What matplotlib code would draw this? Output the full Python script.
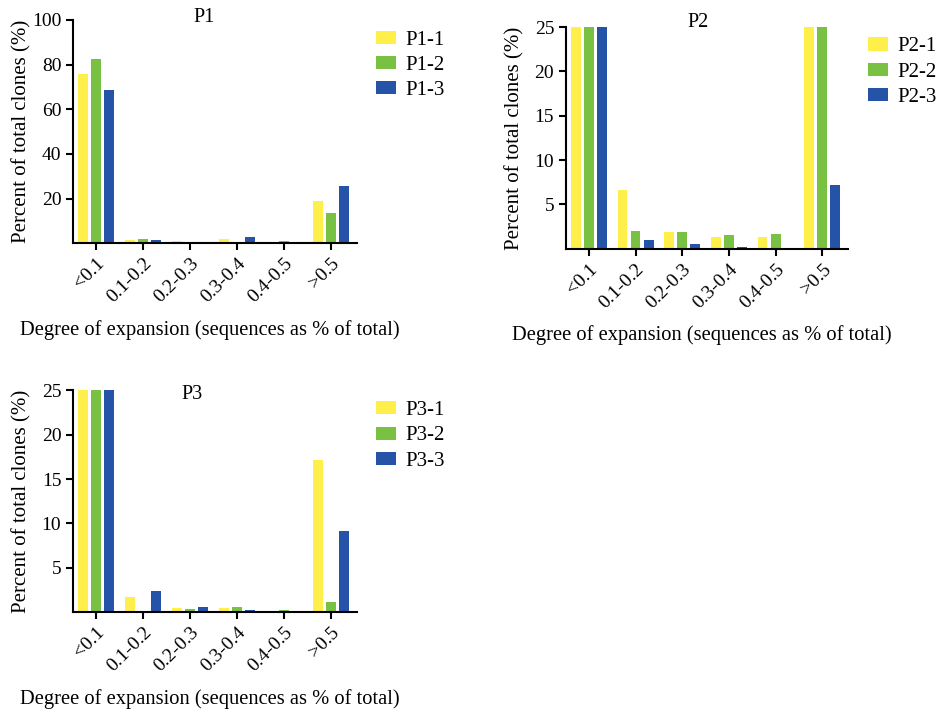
import matplotlib
matplotlib.use("Agg")
import matplotlib.pyplot as plt
import numpy as np

plt.rcParams['font.family'] = ['Liberation Serif', 'DejaVu Serif']

categories = ['<0.1', '0.1-0.2', '0.2-0.3', '0.3-0.4', '0.4-0.5', '>0.5']

# P1 (y axis 0-100)
p1_1 = [75.8, 1.5, 0.8, 2.0, 0.0, 19.0]
p1_2 = [82.4, 1.8, 0.6, 0.6, 0.8, 13.4]
p1_3 = [68.6, 1.5, 0.3, 2.8, 0.6, 25.6]

# P2 (y axis clipped at 25)
p2_1 = [25.0, 6.6, 1.85, 1.3, 1.3, 25.0]
p2_2 = [25.0, 2.0, 1.85, 1.55, 1.7, 25.0]
p2_3 = [25.0, 0.95, 0.5, 0.25, 0.0, 7.2]

# P3 (y axis clipped at 25)
p3_1 = [25.0, 1.76, 0.5, 0.5, 0.0, 17.1]
p3_2 = [25.0, 0.15, 0.4, 0.6, 0.3, 1.1]
p3_3 = [25.0, 2.37, 0.6, 0.25, 0.0, 9.2]

colors = ['#FFEF4A', '#79C143', '#2453A8']

fig = plt.figure(figsize=(9.37, 7.11), dpi=100)

# title, series, legend names, axes rect, ymax, yticks, title pos, legend anchor
panels = [
    ('P1', [p1_1, p1_2, p1_3], ['P1-1', 'P1-2', 'P1-3'], [0.078, 0.658, 0.303, 0.314], 100,
     [20, 40, 60, 80, 100], (0.46, 1.01), (1.067, 0.952)),
    ('P2', [p2_1, p2_2, p2_3], ['P2-1', 'P2-2', 'P2-3'], [0.604, 0.650, 0.301, 0.312], 25,
     [5, 10, 15, 20, 25], (0.47, 1.02), (1.071, 0.953)),
    ('P3', [p3_1, p3_2, p3_3], ['P3-1', 'P3-2', 'P3-3'], [0.078, 0.139, 0.303, 0.312], 25,
     [5, 10, 15, 20, 25], (0.42, 0.98), (1.067, 0.951)),
]

x = np.arange(len(categories))
w = 0.21
step = 0.28

for title, series, names, pos, ymax, yticks, tpos, lpos in panels:
    ax = fig.add_axes(pos)
    handles = []
    for i, vals in enumerate(series):
        b = ax.bar(x + (i - 1) * step, vals, width=w, color=colors[i], label=names[i])
        handles.append(b)
    ax.set_xlim(-0.49, 5.55)
    ax.set_ylim(0, ymax)
    ax.set_yticks(yticks)
    ax.set_xticks(x)
    ax.set_xticklabels(categories, rotation=45, ha='right', rotation_mode='anchor')
    ax.tick_params(axis='both', labelsize=14, width=1.5, length=5, direction='out')
    for s in ['top', 'right']:
        ax.spines[s].set_visible(False)
    for s in ['left', 'bottom']:
        ax.spines[s].set_linewidth(1.5)
    ax.set_ylabel('Percent of total clones (%)', fontsize=15, va='center')
    ax.yaxis.set_label_coords(-0.18, 0.5)
    ax.set_xlabel('Degree of expansion (sequences as % of total)', fontsize=14.8, va='center')
    ax.xaxis.set_label_coords(0.48, -0.39)
    ax.text(tpos[0], tpos[1], title, transform=ax.transAxes, ha='center', va='center', fontsize=14.5)
    ax.legend(handles=handles, loc='upper left', bbox_to_anchor=lpos, frameon=False,
              fontsize=15, handlelength=0.96, handleheight=0.6, labelspacing=0.3,
              handletextpad=0.43, borderpad=0, borderaxespad=0)

fig.savefig('out.png', dpi=100)
